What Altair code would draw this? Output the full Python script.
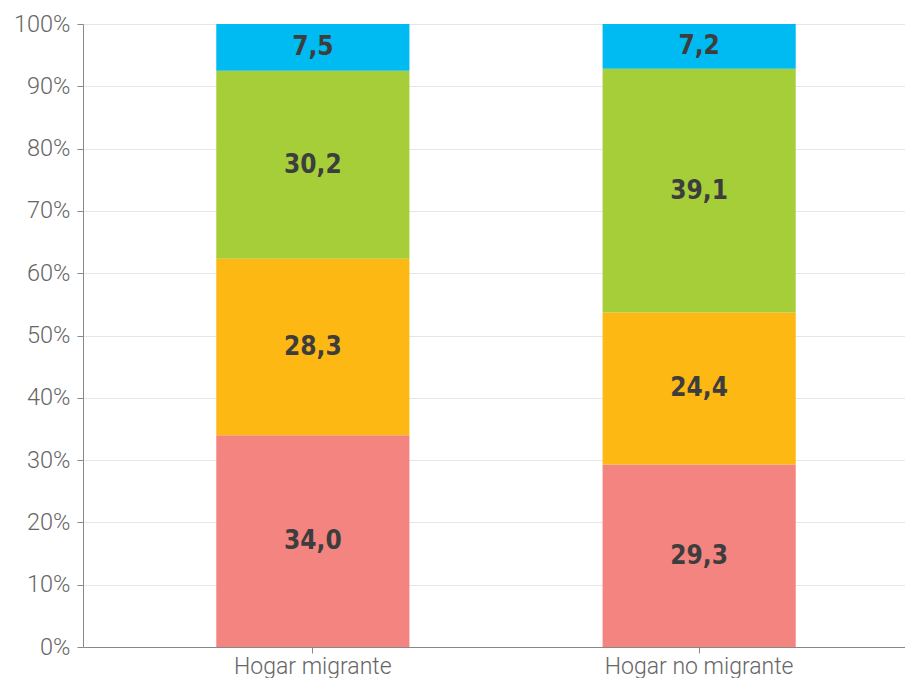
import altair as alt
import pandas as pd

groups = ["Hogar migrante", "Hogar no migrante"]
series = ["S1", "S2", "S3", "S4"]
colors = ["#F4847F", "#FDB813", "#A6CE39", "#00BAF2"]
migrante = [34.0, 28.3, 30.2, 7.5]
no_migrante = [29.3, 24.4, 39.1, 7.2]

rows = []
for g, vals in zip(groups, [migrante, no_migrante]):
    for i, (s, v) in enumerate(zip(series, vals)):
        rows.append({"grupo": g, "serie": s, "orden": i, "valor": v})
df = pd.DataFrame(rows)

xscale = alt.Scale(domain=groups, range=[0, 846], paddingInner=0.5, paddingOuter=0.345)
yscale = alt.Scale(domain=[0, 100], nice=False)

base = alt.Chart(df).transform_stack(
    stack="valor", groupby=["grupo"], as_=["y0", "y1"], sort=[alt.SortField("orden", order="ascending")]
).transform_calculate(
    mid="(datum.y0 + datum.y1) / 2",
    etiqueta="replace(format(datum.valor, '.1f'), '.', ',')",
)

bars = base.mark_bar().encode(
    x=alt.X("grupo:N", scale=xscale, sort=groups, title=None,
            axis=alt.Axis(labelAngle=0, labelFont="Roboto", labelFontWeight=300,
                          labelFontSize=23, labelColor="#666666", domainColor="#888888",
                          tickColor="#888888", tickSize=6, labelPadding=2, labelLimit=0,
                          grid=False)),
    y=alt.Y("y0:Q", scale=yscale, title=None,
            axis=alt.Axis(values=list(range(0, 101, 10)), labelExpr="datum.value + '%'",
                          labelFont="Roboto", labelFontWeight=300, labelFontSize=23.5,
                          labelColor="#666666", domainColor="#888888", tickColor="#888888",
                          tickSize=6, labelPadding=7, gridColor="#e6e6e6")),
    y2="y1:Q",
    color=alt.Color("serie:N", scale=alt.Scale(domain=series, range=colors), legend=None),
)

text = base.mark_text(font="DejaVu Sans Condensed", fontWeight="bold",
                      fontSize=26, color="#3d3d3d", baseline="middle").encode(
    x=alt.X("grupo:N", scale=xscale, sort=groups),
    y=alt.Y("mid:Q", scale=yscale),
    text="etiqueta:N",
)

chart = (bars + text).properties(
    width=822, height=623,
    autosize=alt.AutoSizeParams(type="none"),
    padding={"left": 75, "top": 16, "right": 0, "bottom": 34},
).configure_view(stroke=None)

chart.save("out.html", embed_options={"renderer": "svg", "actions": False})
